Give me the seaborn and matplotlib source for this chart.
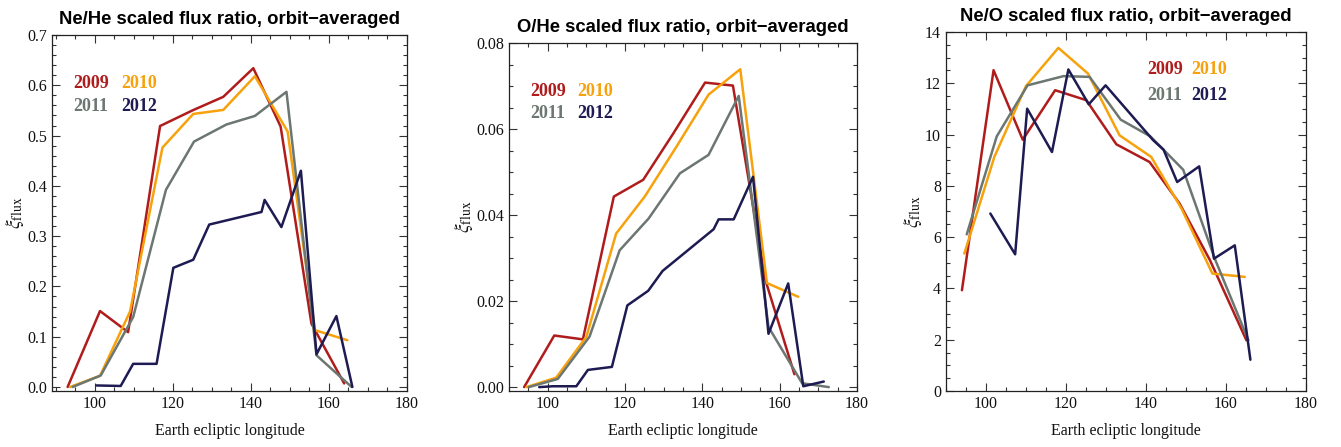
#!/usr/bin/env python3
"""Orbit-averaged scaled flux ratios (Ne/He, O/He, Ne/O) versus Earth ecliptic longitude."""

import matplotlib
matplotlib.use("Agg")
import matplotlib.pyplot as plt
from matplotlib.ticker import MultipleLocator
import pandas as pd
import seaborn as sns


YEARS = ["2009", "2010", "2011", "2012"]
COLORS = ["#B01C1C", "#F7A20C", "#6B7770", "#1D1B52"]

# Ne/He
NEHE_X_2009 = [93.0, 101.3, 108.5, 116.7, 125.0, 132.9, 140.6, 147.6, 155.5, 163.9]
NEHE_Y_2009 = [0.0, 0.151, 0.109, 0.519, 0.550, 0.577, 0.634, 0.518, 0.126, 0.007]
NEHE_X_2010 = [93.6, 101.3, 109.0, 117.3, 125.2, 132.9, 141.0, 149.4, 156.4, 164.7]
NEHE_Y_2010 = [0.0, 0.022, 0.150, 0.476, 0.543, 0.551, 0.618, 0.508, 0.113, 0.093]
NEHE_X_2011 = [94.3, 101.5, 109.8, 118.2, 125.4, 133.7, 141.0, 149.1, 156.8, 165.8]
NEHE_Y_2011 = [0.0, 0.023, 0.139, 0.392, 0.488, 0.522, 0.539, 0.587, 0.063, 0.0]
NEHE_X_2012 = [100.4, 106.6, 109.8, 115.8, 120.1, 125.2, 129.3, 142.7, 143.5, 147.8,
               152.8, 156.8, 161.9, 166.0]
NEHE_Y_2012 = [0.003, 0.002, 0.046, 0.046, 0.237, 0.253, 0.323, 0.348, 0.372, 0.318,
               0.430, 0.065, 0.141, 0.0]

# O/He
OHE_X_2009 = [93.9, 101.7, 109.1, 117.1, 124.7, 132.5, 140.7, 147.9, 156.3, 163.8]
OHE_Y_2009 = [0.0, 0.0120, 0.0111, 0.0443, 0.0482, 0.0590, 0.0708, 0.0701, 0.0249, 0.0030]
OHE_X_2010 = [94.5, 102.2, 110.0, 117.7, 125.1, 133.3, 141.6, 149.8, 156.7, 164.8]
OHE_Y_2010 = [0.0, 0.0022, 0.0117, 0.0357, 0.0443, 0.0559, 0.0680, 0.0739, 0.0242, 0.0210]
OHE_X_2011 = [95.1, 102.6, 110.8, 118.6, 126.1, 134.2, 141.6, 149.4, 157.1, 165.8, 172.7]
OHE_Y_2011 = [0.0, 0.0019, 0.0117, 0.0318, 0.0392, 0.0497, 0.0540, 0.0677, 0.0140,
              0.0009, 0.0]
OHE_X_2012 = [97.8, 101.3, 107.4, 110.4, 116.6, 120.6, 126.0, 129.7, 142.9, 144.2,
              148.1, 153.1, 157.1, 162.2, 166.1, 171.4]
OHE_Y_2012 = [0.0, 0.0002, 0.0002, 0.0040, 0.0047, 0.0190, 0.0224, 0.0270, 0.0367,
              0.0390, 0.0390, 0.0489, 0.0124, 0.0241, 0.0002, 0.0013]

# Ne/O
NEO_X_2009 = [94.0, 101.9, 109.2, 117.3, 125.1, 132.6, 140.9, 148.4, 156.0, 165.1]
NEO_Y_2009 = [3.93, 12.51, 9.80, 11.73, 11.34, 9.62, 8.93, 7.31, 5.10, 1.98]
NEO_X_2010 = [94.6, 102.1, 110.0, 118.1, 125.5, 133.4, 141.3, 148.9, 156.6, 164.7]
NEO_Y_2010 = [5.36, 9.13, 11.89, 13.38, 12.38, 9.97, 9.13, 7.11, 4.58, 4.45]
NEO_X_2011 = [95.2, 102.7, 110.4, 119.4, 125.9, 133.7, 141.1, 149.3, 157.2, 165.6]
NEO_Y_2011 = [6.11, 9.93, 11.92, 12.28, 12.25, 10.58, 9.93, 8.63, 5.16, 1.98]
NEO_X_2012 = [101.1, 107.3, 110.3, 116.5, 120.6, 125.7, 129.9, 141.8, 144.4, 147.8,
              153.3, 157.0, 162.2, 166.1]
NEO_Y_2012 = [6.92, 5.33, 11.01, 9.32, 12.54, 11.18, 11.92, 9.78, 9.41, 8.15,
              8.76, 5.16, 5.68, 1.22]

TITLES = [
    "Ne/He scaled flux ratio, orbit\u2212averaged",
    "O/He scaled flux ratio, orbit\u2212averaged",
    "Ne/O scaled flux ratio, orbit\u2212averaged",
]


def to_frame(xs, ys):
    rows = []
    for year, x, y in zip(YEARS, xs, ys):
        rows += [(year, a, b) for a, b in zip(x, y)]
    return pd.DataFrame(rows, columns=["year", "lon", "ratio"])


def style_axes(ax, xlim, ylim, ymajor, yminor, yfmt):
    ax.set_xlim(*xlim)
    ax.set_ylim(*ylim)
    ax.xaxis.set_major_locator(MultipleLocator(20))
    ax.xaxis.set_minor_locator(MultipleLocator(5))
    ax.yaxis.set_major_locator(MultipleLocator(ymajor))
    ax.yaxis.set_minor_locator(MultipleLocator(yminor))
    ax.yaxis.set_major_formatter(plt.FormatStrFormatter(yfmt))
    ax.tick_params(which="both", direction="in", top=True, right=True, labelsize=11.5,
                   color="#333333", labelcolor="#111111", width=0.8)
    ax.tick_params(which="major", length=6)
    ax.tick_params(which="minor", length=3)
    for s in ax.spines.values():
        s.set_color("#222222")
        s.set_linewidth(0.9)
    ax.set_xlabel("Earth ecliptic longitude", fontsize=11.5, labelpad=8, color="#111111")
    ax.set_ylabel(r"$\xi_{\rm flux}$", fontsize=14, labelpad=1, color="#111111")


def legend_text(ax, x, y, dx, dy):
    for i, (year, col) in enumerate(zip(YEARS, COLORS)):
        ax.text(x + dx * (i % 2), y - dy * (i // 2), year, color=col,
                transform=ax.transAxes, fontsize=13, fontweight="bold",
                family="Liberation Serif", va="center", ha="left")


def main():
    sns.set_theme(style="ticks")
    plt.rcParams["font.family"] = ["Liberation Serif", "DejaVu Serif"]
    plt.rcParams["mathtext.fontset"] = "stix"

    fig = plt.figure(figsize=(13.41, 4.47), dpi=100)
    ax1 = fig.add_axes([0.0388, 0.1253, 0.2647, 0.7964])
    ax2 = fig.add_axes([0.3796, 0.1253, 0.2595, 0.7785])
    ax3 = fig.add_axes([0.7054, 0.1253, 0.2685, 0.8031])

    frames = [
        to_frame([NEHE_X_2009, NEHE_X_2010, NEHE_X_2011, NEHE_X_2012],
                 [NEHE_Y_2009, NEHE_Y_2010, NEHE_Y_2011, NEHE_Y_2012]),
        to_frame([OHE_X_2009, OHE_X_2010, OHE_X_2011, OHE_X_2012],
                 [OHE_Y_2009, OHE_Y_2010, OHE_Y_2011, OHE_Y_2012]),
        to_frame([NEO_X_2009, NEO_X_2010, NEO_X_2011, NEO_X_2012],
                 [NEO_Y_2009, NEO_Y_2010, NEO_Y_2011, NEO_Y_2012]),
    ]
    palette = dict(zip(YEARS, COLORS))
    for ax, df, title in zip([ax1, ax2, ax3], frames, TITLES):
        sns.lineplot(data=df, x="lon", y="ratio", hue="year", palette=palette,
                     estimator=None, sort=False, linewidth=1.8, legend=False, ax=ax)
        ax.set_title(title, fontsize=13.3, fontweight="bold", color="black",
                     family="Liberation Sans", pad=8)

    style_axes(ax1, (89, 180), (-0.008, 0.7), 0.1, 0.02, "%.1f")
    style_axes(ax2, (90, 180), (-0.0009, 0.08), 0.02, 0.005, "%.2f")
    style_axes(ax3, (90, 180), (0, 14), 2, 0.5, "%d")

    legend_text(ax1, 0.06, 0.865, 0.135, 0.067)
    legend_text(ax2, 0.06, 0.86, 0.135, 0.062)
    legend_text(ax3, 0.56, 0.895, 0.12, 0.072)

    fig.savefig("out.png", dpi=100)
    plt.close(fig)


if __name__ == "__main__":
    main()
